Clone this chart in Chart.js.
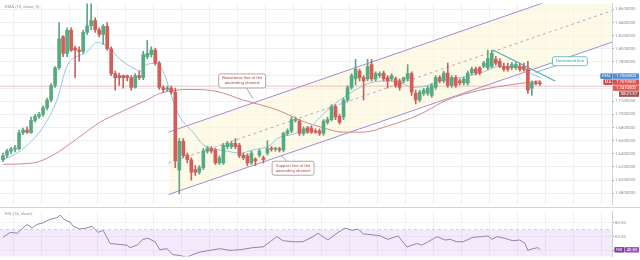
<!DOCTYPE html>
<html>
<head>
<meta charset="utf-8">
<script src="https://cdn.jsdelivr.net/npm/chart.js@4.4.1/dist/chart.umd.min.js"></script>
<style>
html, body { margin: 0; padding: 0; background: #fff; }
#wrap { width: 640px; height: 260px; overflow: hidden; }
canvas { display: block; }
</style>
</head>
<body>
<div id="wrap">
  <canvas id="graficoPrecio" width="640" height="208"></canvas>
  <canvas id="graficoRSI" width="640" height="52"></canvas>
</div>
<script>
// Velas diarias (open / high / low / close)
const aperturas = [
  1.631,1.638,1.644,1.647,1.648,1.672,1.676,1.672,
  1.691,1.697,1.700,1.710,1.722,1.744,1.771,1.818,1.793,1.828,
  1.801,1.798,1.796,1.825,1.835,1.843,1.829,1.822,1.834,1.800,
  1.762,1.759,1.759,1.759,1.756,1.741,1.759,1.756,1.788,1.791,
  1.798,1.778,1.741,1.738,1.740,1.734,1.615,1.659,1.638,1.631,
  1.616,1.612,1.619,1.644,1.648,1.646,1.626,1.626,1.651,1.651,
  1.656,1.653,1.638,1.637,1.626,1.632,1.638,1.634,1.641,1.648,
  1.647,1.647,1.646,1.671,1.675,1.691,1.690,1.671,1.679,1.679,
  1.675,1.675,1.671,1.688,1.692,1.712,1.697,1.696,1.722,1.741,
  1.754,1.766,1.756,1.754,1.776,1.754,1.759,1.763,1.756,1.754,
  1.754,1.751,1.751,1.754,1.762,1.732,1.722,1.732,1.732,1.729,
  1.741,1.756,1.751,1.763,1.744,1.756,1.751,1.748,1.748,1.763,
  1.769,1.771,1.773,1.771,1.773,1.784,1.781,1.773,1.773,1.771,
  1.771,1.773,1.773,1.769,1.740,1.748,1.748
];
const maximos = [
  1.641,1.647,1.650,1.653,1.676,1.679,1.681,1.696,
  1.700,1.703,1.713,1.725,1.747,1.773,1.840,1.820,1.832,1.832,
  1.804,1.803,1.828,1.869,1.876,1.847,1.832,1.837,1.840,1.803,
  1.766,1.763,1.760,1.760,1.759,1.762,1.766,1.796,1.813,1.803,
  1.801,1.781,1.744,1.743,1.743,1.740,1.663,1.663,1.641,1.634,
  1.622,1.622,1.648,1.651,1.651,1.648,1.637,1.656,1.659,1.659,
  1.663,1.656,1.641,1.640,1.644,1.634,1.647,1.637,1.660,1.651,
  1.650,1.650,1.673,1.678,1.696,1.696,1.692,1.681,1.682,1.682,
  1.678,1.678,1.692,1.696,1.715,1.715,1.700,1.725,1.744,1.762,
  1.784,1.769,1.759,1.784,1.784,1.765,1.765,1.766,1.759,1.762,
  1.757,1.754,1.757,1.776,1.765,1.737,1.737,1.740,1.743,1.747,
  1.759,1.759,1.766,1.778,1.759,1.759,1.754,1.757,1.766,1.772,
  1.772,1.773,1.781,1.798,1.798,1.788,1.785,1.778,1.778,1.779,
  1.779,1.778,1.778,1.781,1.751,1.751,1.751
];
const minimos = [
  1.628,1.634,1.640,1.643,1.646,1.669,1.671,1.671,
  1.688,1.694,1.697,1.707,1.719,1.741,1.768,1.788,1.788,1.796,
  1.756,1.781,1.793,1.822,1.829,1.825,1.818,1.807,1.798,1.759,
  1.737,1.744,1.740,1.751,1.737,1.740,1.753,1.753,1.785,1.787,
  1.775,1.738,1.734,1.735,1.731,1.619,1.579,1.634,1.626,1.600,
  1.607,1.609,1.616,1.641,1.641,1.624,1.624,1.624,1.648,1.648,
  1.648,1.634,1.631,1.622,1.624,1.622,1.635,1.626,1.638,1.644,
  1.644,1.643,1.643,1.668,1.672,1.688,1.668,1.668,1.671,1.671,
  1.671,1.668,1.668,1.685,1.690,1.692,1.685,1.692,1.719,1.738,
  1.745,1.751,1.722,1.751,1.751,1.751,1.756,1.751,1.740,1.751,
  1.741,1.737,1.748,1.751,1.729,1.716,1.719,1.729,1.729,1.726,
  1.738,1.748,1.748,1.741,1.741,1.741,1.745,1.745,1.745,1.760,
  1.760,1.760,1.771,1.768,1.771,1.775,1.771,1.766,1.766,1.768,
  1.768,1.766,1.766,1.732,1.729,1.745,1.744
];
const cierres = [
  1.637,1.644,1.647,1.648,1.672,1.676,1.673,1.691,
  1.697,1.700,1.710,1.722,1.744,1.771,1.815,1.793,1.828,1.798,
  1.798,1.796,1.825,1.835,1.843,1.829,1.822,1.834,1.800,1.762,
  1.756,1.756,1.756,1.756,1.741,1.759,1.756,1.791,1.793,1.798,
  1.778,1.741,1.738,1.740,1.734,1.629,1.659,1.637,1.631,1.612,
  1.612,1.619,1.644,1.648,1.644,1.626,1.634,1.653,1.656,1.656,
  1.651,1.637,1.634,1.626,1.641,1.629,1.644,1.631,1.648,1.647,
  1.648,1.646,1.671,1.675,1.692,1.692,1.671,1.678,1.673,1.673,
  1.673,1.671,1.690,1.692,1.712,1.696,1.688,1.722,1.741,1.759,
  1.769,1.756,1.751,1.773,1.754,1.762,1.762,1.754,1.751,1.759,
  1.744,1.741,1.756,1.762,1.734,1.722,1.734,1.737,1.740,1.744,
  1.756,1.751,1.763,1.744,1.756,1.744,1.748,1.754,1.763,1.769,
  1.763,1.763,1.778,1.785,1.793,1.778,1.773,1.769,1.769,1.776,
  1.776,1.769,1.769,1.737,1.748,1.747,1.747
];

// Medias moviles (indice de vela, precio)
const emaRapidaX = [0,4.23,10.03,13.47,15.93,20.94,23.5,24.98,26.75,29.2,32.45,34.22,35.89,38.45,40.41,42.38,44.15,47.4,49.95,52.41,55.95,59.2,62.44,66.67,68.34,72.37,76.6,79.84,84.07,89.09,91.55,95.87,99.12,102.36,105.8,109.05,114.06,119.08,124.0,129.01,131.57,134.02];
const emaRapidaY = [1.631,1.644,1.681,1.722,1.773,1.795,1.810,1.807,1.800,1.784,1.771,1.766,1.776,1.778,1.759,1.722,1.696,1.673,1.654,1.648,1.644,1.641,1.646,1.653,1.663,1.670,1.681,1.700,1.722,1.741,1.748,1.751,1.748,1.741,1.744,1.751,1.756,1.763,1.773,1.773,1.763,1.756];
const emaLentaX = [0,7.47,12.49,18.49,24.19,29.2,35.89,39.14,46.71,53.39,59.88,68.34,75.91,79.16,84.86,89.87,95.87,104.03,110.82,119.08,126.55,134.02];
const emaLentaY = [1.624,1.626,1.638,1.663,1.688,1.703,1.722,1.732,1.738,1.735,1.722,1.707,1.687,1.681,1.673,1.673,1.682,1.700,1.722,1.737,1.745,1.751];

// Canal ascendente y linea bajista (extremos)
const canalX = [41.3, 152.0];
const canalInferior = [1.578, 1.810];
const canalSuperior = [1.673, 1.906];
const canalMedio = [1.626, 1.858];
const bajistaX = [122.3, 137.8];
const bajistaY = [1.798, 1.751];
const precioActual = 1.743;

// RSI (14)
const rsiX = [0,1.77,3.54,6.0,7.28,8.46,10.03,11.7,13.47,14.26,15.44,16.72,17.5,19.17,20.94,22.22,23.7,24.98,26.75,30.97,31.66,33.43,34.91,36.19,37.96,39.14,40.91,42.38,44.15,45.92,47.4,49.17,51.62,54.18,56.64,59.2,62.44,64.9,66.67,68.34,69.91,72.37,74.83,77.39,78.66,79.16,81.12,83.38,85.35,87.12,88.6,89.87,92.33,94.1,96.07,98.63,100.79,103.35,104.52,106.1,108.36,110.33,111.6,113.28,114.85,117.31,119.77,121.04,122.03,123.31,125.27,127.24,129.01,130.29,130.98,132.26,133.53,134.02];
const rsiV = [59,66,65,77.5,72.5,77.5,80,85,87.5,91,84,81,75,71,72.5,75,66,69,50,47.5,44,47.5,56,57.5,52.5,41,42.5,34,32.5,30,34,37.5,40,42.5,40,41,44,45,52.5,60,54,52.5,52.5,60,65,62.5,55,65,72.5,69,71,64,62.5,61,56,61,45,50,47.5,52.5,60,55,56,52.5,52.5,59,60,61,56,60,57.5,54,55,50,40,42.5,44,40.83];
const rsiBanda = [70, 30];

// Ticks
const precioTicks = [1.58,1.60,1.62,1.64,1.66,1.68,1.70,1.72,1.74,1.76,1.78,1.80,1.82,1.84,1.86];
const rsiTicks = [80, 60, 40];

const X_MIN = -0.75, X_MAX = 152.0;
const VERDE = '#5aa882', ROJO = '#cf5f5a';
const FUENTE = 'Roboto, "DejaVu Sans", sans-serif';

const semanas = [];
for (let v = 2.5; v < X_MAX; v += 7) semanas.push(v);

const pts = (xs, ys) => xs.map((x, i) => ({ x: x, y: ys[i] }));
const colorVela = c => cierres[c.dataIndex] >= aperturas[c.dataIndex] ? VERDE : ROJO;

function cajaRedonda(ctx, x, y, w, h, r) {
  ctx.beginPath();
  ctx.moveTo(x + r, y);
  ctx.lineTo(x + w - r, y); ctx.quadraticCurveTo(x + w, y, x + w, y + r);
  ctx.lineTo(x + w, y + h - r); ctx.quadraticCurveTo(x + w, y + h, x + w - r, y + h);
  ctx.lineTo(x + r, y + h); ctx.quadraticCurveTo(x, y + h, x, y + h - r);
  ctx.lineTo(x, y + r); ctx.quadraticCurveTo(x, y, x + r, y);
  ctx.closePath();
}

function nota(ctx, lineas, cx, cy, px, py, borde, texto) {
  ctx.save();
  ctx.font = '4.2px ' + FUENTE;
  const w = Math.max(...lineas.map(t => ctx.measureText(t).width)) + 7;
  const h = lineas.length * 5 + 4;
  ctx.strokeStyle = borde; ctx.lineWidth = 0.8;
  ctx.beginPath(); ctx.moveTo(cx, cy); ctx.lineTo(px, py); ctx.stroke();
  cajaRedonda(ctx, cx - w / 2, cy - h / 2, w, h, 2);
  ctx.fillStyle = '#fff'; ctx.fill(); ctx.stroke();
  ctx.fillStyle = texto; ctx.textAlign = 'center'; ctx.textBaseline = 'middle';
  lineas.forEach((t, i) => ctx.fillText(t, cx, cy - (lineas.length - 1) * 2.5 + i * 5));
  ctx.restore();
}

function etiqueta(ctx, y, partes) {
  ctx.save();
  ctx.font = '4.2px ' + FUENTE;
  ctx.textBaseline = 'middle';
  let x = 639;
  for (let i = partes.length - 1; i >= 0; i--) {
    const p = partes[i];
    x -= p.w;
    ctx.fillStyle = p.bg; ctx.fillRect(x, y - 2.7, p.w, 5.4);
    ctx.fillStyle = '#fff'; ctx.textAlign = 'center';
    ctx.fillText(p.t, x + p.w / 2, y + 0.2);
    x -= 0.6;
  }
  ctx.restore();
}

const extrasPrecio = {
  id: 'extrasPrecio',
  afterDraw(chart) {
    const { ctx, scales: { x, y } } = chart;
    ctx.save();
    ctx.font = '4.3px ' + FUENTE;
    ctx.fillStyle = '#8d929b';
    ctx.textBaseline = 'middle';
    ctx.fillText('EMA (10, close, 0)', 5, 7);
    ctx.restore();

    nota(ctx, ['Resistance line of the', 'ascending channel'],
      x.getPixelForValue(59.7), y.getPixelForValue(1.751),
      x.getPixelForValue(62.4), y.getPixelForValue(1.724), '#a88c8a', '#b0504c');
    nota(ctx, ['Support line of the', 'ascending channel'],
      x.getPixelForValue(72.4), y.getPixelForValue(1.618),
      x.getPixelForValue(69.4), y.getPixelForValue(1.638), '#a88c8a', '#b0504c');
    nota(ctx, ['Downtrend line'],
      x.getPixelForValue(141.5), y.getPixelForValue(1.781),
      x.getPixelForValue(132.9), y.getPixelForValue(1.764), '#52b2b6', '#3d9ea3');

    const yb = y.getPixelForValue(emaRapidaY[emaRapidaY.length - 1]) - 1.5;
    etiqueta(ctx, yb, [{ t: 'EMA', bg: '#3f7fc4', w: 12 }, { t: emaRapidaY[emaRapidaY.length - 1].toFixed(7), bg: '#4b8fd6', w: 26 }]);
    etiqueta(ctx, yb + 6, [{ t: 'MA', bg: '#c9403c', w: 9 }, { t: emaLentaY[emaLentaY.length - 1].toFixed(7), bg: '#e0504b', w: 26 }]);
    etiqueta(ctx, yb + 12, [{ t: cierres[cierres.length - 1].toFixed(7), bg: '#df5a55', w: 26 }]);
    etiqueta(ctx, yb + 18, [{ t: '08:21:37', bg: '#a4544f', w: 20 }]);

    ctx.save();
    ctx.strokeStyle = '#d4d6da'; ctx.lineWidth = 1;
    ctx.beginPath(); ctx.moveTo(0, 207.5); ctx.lineTo(640, 207.5); ctx.stroke();
    ctx.restore();
  }
};

const extrasRSI = {
  id: 'extrasRSI',
  afterDraw(chart) {
    const { ctx, scales: { y } } = chart;
    ctx.save();
    ctx.font = '4.3px ' + FUENTE;
    ctx.fillStyle = '#8d929b';
    ctx.textBaseline = 'middle';
    ctx.fillText('RSI (14, close)', 5, 6);
    ctx.restore();
    const ult = rsiV[rsiV.length - 1];
    etiqueta(ctx, y.getPixelForValue(ult), [{ t: 'RSI', bg: '#7c3a9e', w: 10 }, { t: ult.toFixed(2), bg: '#9a4cc0', w: 14 }]);
  }
};

const ejeX = {
  type: 'linear', min: X_MIN, max: X_MAX, offset: false,
  ticks: { display: false },
  grid: { color: '#eef0f4', drawTicks: false, offset: false },
  border: { display: false },
  afterBuildTicks: s => { s.ticks = semanas.map(v => ({ value: v })); }
};

new Chart(document.getElementById('graficoPrecio'), {
  type: 'bar',
  data: {
    datasets: [
      { type: 'line', data: pts(canalX, canalInferior), borderColor: '#a58bd8', borderWidth: 1, pointRadius: 0, fill: false, order: 9 },
      { type: 'line', data: pts(canalX, canalSuperior), borderColor: '#a58bd8', borderWidth: 1, pointRadius: 0, fill: '-1', backgroundColor: 'rgba(253,246,216,0.6)', order: 9 },
      { type: 'line', data: pts(canalX, canalMedio), borderColor: '#a890cc', borderWidth: 0.8, borderDash: [3, 3], pointRadius: 0, fill: false, order: 8 },
      { type: 'line', data: pts([X_MIN, X_MAX], [precioActual, precioActual]), borderColor: 'rgba(214,120,116,0.55)', borderWidth: 0.8, pointRadius: 0, fill: false, order: 7 },
      { type: 'line', data: pts(emaLentaX, emaLentaY), borderColor: '#cf8b88', borderWidth: 1, pointRadius: 0, cubicInterpolationMode: 'monotone', fill: false, order: 5 },
      { type: 'line', data: pts(emaRapidaX, emaRapidaY), borderColor: '#92c6e6', borderWidth: 1, pointRadius: 0, cubicInterpolationMode: 'monotone', fill: false, order: 4 },
      { data: maximos.map((h, i) => ({ x: i, y: [minimos[i], h] })), backgroundColor: colorVela, barThickness: 1, grouped: false, order: 3 },
      { data: aperturas.map((o, i) => ({ x: i, y: [o, cierres[i]] })), backgroundColor: colorVela, barThickness: 3, minBarLength: 1, grouped: false, order: 2 },
      { type: 'line', data: pts(bajistaX, bajistaY), borderColor: '#4fb0b4', borderWidth: 1.2, pointRadius: 0, fill: false, order: 1 }
    ]
  },
  options: {
    responsive: false,
    animation: false,
    layout: { padding: 0 },
    plugins: { legend: { display: false }, tooltip: { enabled: false } },
    scales: {
      x: ejeX,
      y: {
        position: 'right',
        min: 1.5629, max: 1.8688,
        afterBuildTicks: s => { s.ticks = precioTicks.map(v => ({ value: v })); },
        afterFit: s => { s.width = 28; },
        ticks: { callback: v => Number(v).toFixed(7), color: '#8a8f98', font: { size: 4.3, family: FUENTE }, padding: 1 },
        grid: { color: '#eef0f4', tickLength: 2, tickColor: '#9aa0a8' },
        border: { color: '#cfd2d6' }
      }
    }
  },
  plugins: [extrasPrecio]
});

new Chart(document.getElementById('graficoRSI'), {
  type: 'line',
  data: {
    datasets: [
      { data: pts([X_MIN, X_MAX], [rsiBanda[0], rsiBanda[0]]), borderColor: 'rgba(160,110,200,0.45)', borderWidth: 0.8, borderDash: [3, 3], pointRadius: 0, fill: false, order: 5 },
      { data: pts([X_MIN, X_MAX], [rsiBanda[1], rsiBanda[1]]), borderColor: 'rgba(160,110,200,0.45)', borderWidth: 0.8, borderDash: [3, 3], pointRadius: 0, fill: '-1', backgroundColor: 'rgba(206,160,236,0.22)', order: 5 },
      { data: pts(rsiX, rsiV), borderColor: '#9484ae', borderWidth: 1, pointRadius: 0, fill: false, order: 1 }
    ]
  },
  options: {
    responsive: false,
    animation: false,
    layout: { padding: 0 },
    plugins: { legend: { display: false }, tooltip: { enabled: false } },
    scales: {
      x: ejeX,
      y: {
        position: 'right',
        min: 31.25, max: 96.25,
        afterBuildTicks: s => { s.ticks = rsiTicks.map(v => ({ value: v })); },
        afterFit: s => { s.width = 28; },
        ticks: { callback: v => Number(v).toFixed(2), color: '#8a8f98', font: { size: 4.3, family: FUENTE }, padding: 1 },
        grid: { color: '#f3f4f7', tickLength: 2, tickColor: '#9aa0a8' },
        border: { color: '#cfd2d6' }
      }
    }
  },
  plugins: [extrasRSI]
});
</script>
</body>
</html>
